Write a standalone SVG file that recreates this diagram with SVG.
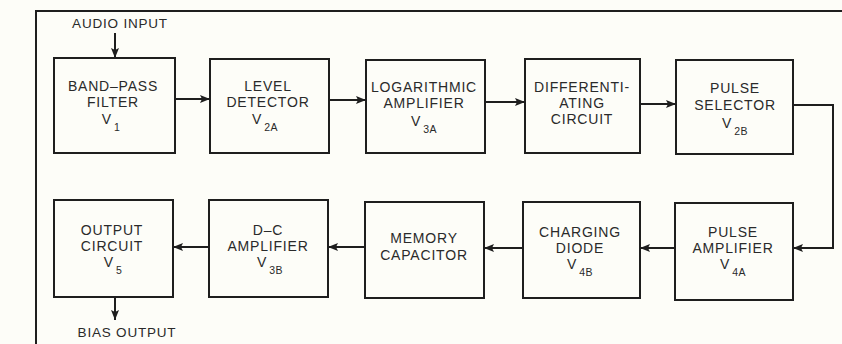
<svg xmlns="http://www.w3.org/2000/svg" width="842" height="344" viewBox="0 0 842 344">
<defs>
<marker id="ah" viewBox="0 0 10 8" refX="10" refY="4" markerWidth="10" markerHeight="8" markerUnits="userSpaceOnUse" orient="auto">
<path d="M0,0 L10,4 L0,8 L2,4 Z" fill="#1e1e1e"/>
</marker>
</defs>
<style>
.bx{fill:none;stroke:#1e1e1e;stroke-width:2}
.ln{fill:none;stroke:#1e1e1e;stroke-width:2}
.cn{fill:none;stroke:#1e1e1e;stroke-width:2;marker-end:url(#ah)}
text{font-family:"Liberation Sans",Arial,sans-serif;font-size:14px;fill:#2a2a2a;text-anchor:middle;letter-spacing:0.8px}
.sub{font-size:10.5px;letter-spacing:0.5px}
.lbl{font-size:13.5px;letter-spacing:0.8px}
</style>
<rect width="842" height="344" fill="#fdfdf8"/>
<g id="frame">
<path class="ln" d="M36,344 V11 H842"/>
</g>
<g id="audio-input">
<text class="lbl" x="120" y="28">AUDIO INPUT</text>
</g>
<g id="bias-output">
<text class="lbl" x="127" y="337">BIAS OUTPUT</text>
</g>
<g id="band-pass-filter">
<rect class="bx" x="54" y="58" width="121" height="95"/>
<text x="113" y="91">BAND–PASS</text>
<text x="113" y="107">FILTER</text>
<text x="111" y="124">V<tspan class="sub" dx="2" dy="7">1</tspan></text>
</g>
<g id="level-detector">
<rect class="bx" x="210" y="59" width="119" height="94"/>
<text x="268" y="91">LEVEL</text>
<text x="268" y="107">DETECTOR</text>
<text x="265" y="124">V<tspan class="sub" dx="2" dy="7">2A</tspan></text>
</g>
<g id="logarithmic-amplifier">
<rect class="bx" x="366" y="60" width="119" height="93"/>
<text x="424" y="92">LOGARITHMIC</text>
<text x="424" y="108">AMPLIFIER</text>
<text x="424" y="126">V<tspan class="sub" dx="2" dy="7">3A</tspan></text>
</g>
<g id="differentiating-circuit">
<rect class="bx" x="525" y="59" width="115" height="94"/>
<text x="582" y="92">DIFFERENTI-</text>
<text x="582" y="108">ATING</text>
<text x="582" y="124">CIRCUIT</text>
</g>
<g id="pulse-selector">
<rect class="bx" x="676" y="60" width="117" height="94"/>
<text x="735" y="93">PULSE</text>
<text x="735" y="110">SELECTOR</text>
<text x="735" y="128">V<tspan class="sub" dx="2" dy="7">2B</tspan></text>
</g>
<g id="output-circuit">
<rect class="bx" x="54" y="200" width="119" height="97"/>
<text x="112" y="235">OUTPUT</text>
<text x="112" y="251">CIRCUIT</text>
<text x="113" y="267">V<tspan class="sub" dx="2" dy="7">5</tspan></text>
</g>
<g id="dc-amplifier">
<rect class="bx" x="209" y="200" width="119" height="97"/>
<text x="268" y="235">D–C</text>
<text x="268" y="251">AMPLIFIER</text>
<text x="270" y="267">V<tspan class="sub" dx="2" dy="7">3B</tspan></text>
</g>
<g id="memory-capacitor">
<rect class="bx" x="365" y="202" width="119" height="96"/>
<text x="424" y="243">MEMORY</text>
<text x="424" y="260">CAPACITOR</text>
</g>
<g id="charging-diode">
<rect class="bx" x="523" y="202" width="117" height="96"/>
<text x="580" y="237">CHARGING</text>
<text x="580" y="253">DIODE</text>
<text x="580" y="269">V<tspan class="sub" dx="2" dy="7">4B</tspan></text>
</g>
<g id="pulse-amplifier">
<rect class="bx" x="675" y="203" width="118" height="97"/>
<text x="733" y="237">PULSE</text>
<text x="733" y="253">AMPLIFIER</text>
<text x="733" y="269">V<tspan class="sub" dx="2" dy="7">4A</tspan></text>
</g>
<g id="connectors">
<path class="cn" d="M115,33 V58"/>
<path class="cn" d="M175,99 H210"/>
<path class="cn" d="M329,100 H366"/>
<path class="cn" d="M485,102 H525"/>
<path class="cn" d="M640,104 H676"/>
<path class="cn" d="M793,105 H833 V248 H793"/>
<path class="cn" d="M675,248 H640"/>
<path class="cn" d="M523,248 H484"/>
<path class="cn" d="M365,247 H328"/>
<path class="cn" d="M209,247 H173"/>
<path class="cn" d="M115,297 V320"/>
</g>
</svg>
